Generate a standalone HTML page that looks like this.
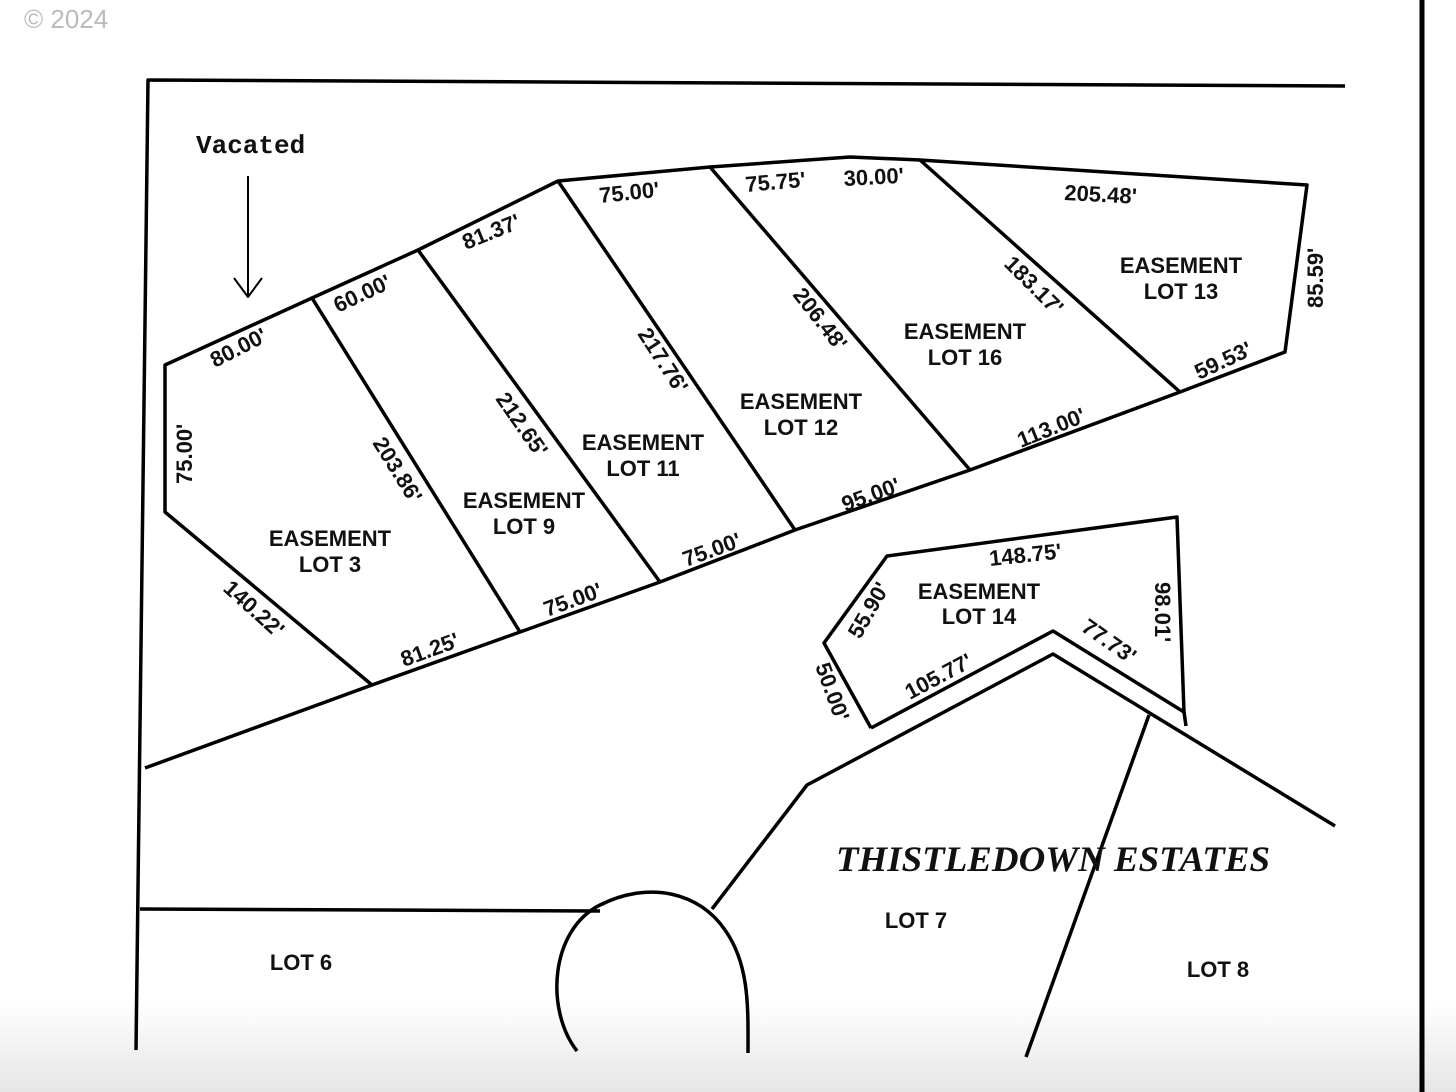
<!DOCTYPE html>
<html><head><meta charset="utf-8"><style>
html,body{margin:0;padding:0;background:#fff}
svg{display:block}
text{font-family:"Liberation Sans",sans-serif;font-size:22px;fill:#111;font-weight:bold}
.t{font-size:23px}
</style></head><body>
<svg width="1456" height="1092" viewBox="0 0 1456 1092" xmlns="http://www.w3.org/2000/svg">
<defs><linearGradient id="g" x1="0" y1="0" x2="0" y2="1"><stop offset="0" stop-color="#fff"/><stop offset="1" stop-color="#e6e6e6"/></linearGradient></defs>
<rect x="0" y="1000" width="1456" height="92" fill="url(#g)"/>
<text x="24" y="28" style="font-size:26px;fill:#bbb;font-weight:normal">© 2024</text>
<g stroke="#000" stroke-width="3.5" fill="none" stroke-linejoin="round">
<line x1="1422" y1="0" x2="1422" y2="1092" stroke-width="5"/>
<polyline points="1345,86 148,80 136,1050"/>
<polyline points="145,768 372,685 520,632 660,582 795,530 970,470 1180,392 1285,352 1307,185 920,160 850,157 710,167 558,181 418,250 312,298 165,365 165,512 372,685"/>
<line x1="312" y1="298" x2="520" y2="632"/>
<line x1="418" y1="250" x2="660" y2="582"/>
<line x1="558" y1="181" x2="795" y2="530"/>
<line x1="710" y1="167" x2="970" y2="470"/>
<line x1="920" y1="160" x2="1180" y2="392"/>
<line x1="248" y1="176" x2="248" y2="297" stroke-width="2"/>
<polyline points="234,278 248,297 262,278" stroke-width="2"/>
<polyline points="871,728 824,643 887,556 1177,517 1184,712 1053,631 871,728"/>
<line x1="1184" y1="712" x2="1186" y2="726"/>
<polyline points="1335,826 1053,654 807,785 712,909"/>
<line x1="1149" y1="715" x2="1026" y2="1057"/>
<line x1="140" y1="909" x2="600" y2="911"/>
<path d="M577,1051 C545,1010 550,930 600,905 C650,880 700,893 725,930 C750,965 748,1010 748,1053"/>
</g>
<text x="196" y="153" style="font-family:'Liberation Mono',monospace;font-size:26px;font-weight:bold">Vacated</text>
<g>
<text x="215" y="368" transform="rotate(-27 215 368)">80.00'</text>
<text x="338" y="313" transform="rotate(-25 338 313)">60.00'</text>
<text x="466" y="250" transform="rotate(-22 466 250)">81.37'</text>
<text x="600" y="203" transform="rotate(-6 600 203)">75.00'</text>
<text x="746" y="192" transform="rotate(-5 746 192)">75.75'</text>
<text x="844" y="186" transform="rotate(-3 844 186)">30.00'</text>
<text x="1064" y="200" transform="rotate(3 1064 200)">205.48'</text>
<text x="1323" y="308" transform="rotate(-90 1323 308)">85.59'</text>
<text x="1199" y="380" transform="rotate(-25 1199 380)">59.53'</text>
<text x="1021" y="448" transform="rotate(-22 1021 448)">113.00'</text>
<text x="845" y="512" transform="rotate(-20 845 512)">95.00'</text>
<text x="686" y="567" transform="rotate(-20 686 567)">75.00'</text>
<text x="547" y="617" transform="rotate(-20 547 617)">75.00'</text>
<text x="404" y="667" transform="rotate(-20 404 667)">81.25'</text>
<text x="192" y="484" transform="rotate(-90 192 484)">75.00'</text>
<text x="222" y="590" transform="rotate(42 222 590)">140.22'</text>
<text x="372" y="443" transform="rotate(58 372 443)">203.86'</text>
<text x="495" y="399" transform="rotate(55 495 399)">212.65'</text>
<text x="637" y="334" transform="rotate(57 637 334)">217.76'</text>
<text x="792" y="295" transform="rotate(52 792 295)">206.48'</text>
<text x="1003" y="265" transform="rotate(45 1003 265)">183.17'</text>
<text x="990" y="566" transform="rotate(-6 990 566)">148.75'</text>
<text x="860" y="640" transform="rotate(-60 860 640)">55.90'</text>
<text x="815" y="666" transform="rotate(70 815 666)">50.00'</text>
<text x="910" y="700" transform="rotate(-28 910 700)">105.77'</text>
<text x="1080" y="630" transform="rotate(35 1080 630)">77.73'</text>
<text x="1155" y="582" transform="rotate(90 1155 582)">98.01'</text>
<g class="t" text-anchor="middle">
<text x="330" y="546">EASEMENT</text><text x="330" y="572">LOT 3</text>
<text x="524" y="508">EASEMENT</text><text x="524" y="534">LOT 9</text>
<text x="643" y="450">EASEMENT</text><text x="643" y="476">LOT 11</text>
<text x="801" y="409">EASEMENT</text><text x="801" y="435">LOT 12</text>
<text x="965" y="339">EASEMENT</text><text x="965" y="365">LOT 16</text>
<text x="1181" y="273">EASEMENT</text><text x="1181" y="299">LOT 13</text>
<text x="979" y="599">EASEMENT</text><text x="979" y="624">LOT 14</text>
<text x="301" y="970">LOT 6</text>
<text x="916" y="928">LOT 7</text>
<text x="1218" y="977">LOT 8</text>
</g>
<text x="836" y="871" style="font-family:'Liberation Serif',serif;font-style:italic;font-weight:bold;font-size:36px" textLength="434" lengthAdjust="spacingAndGlyphs">THISTLEDOWN ESTATES</text>
</g>
</svg>
</body></html>
